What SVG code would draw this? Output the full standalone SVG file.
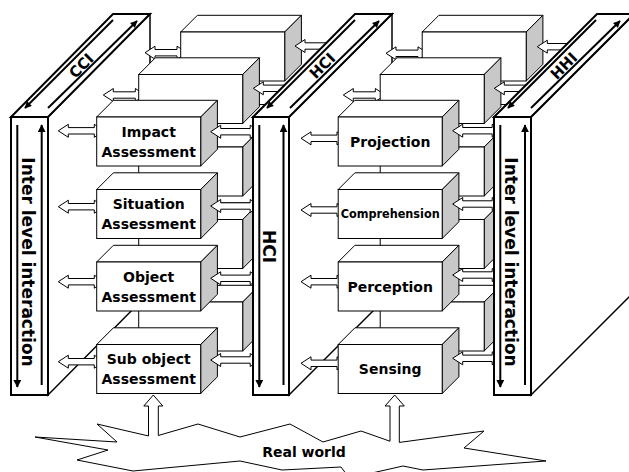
<svg xmlns="http://www.w3.org/2000/svg" width="629" height="472" viewBox="0 0 629 472">
<style>
.front,.top{fill:#fff;stroke:#000;stroke-width:1}
.side{fill:#c8c8c8;stroke:#000;stroke-width:1}
.arr{fill:#fff;stroke:#000;stroke-width:1}
.pface{fill:#fff;stroke:#000;stroke-width:2}
.pside{fill:#fff;stroke:#000;stroke-width:1.5}
.vline,.dline{stroke:#000;stroke-width:2;fill:none}
.burst{fill:#fff;stroke:#000;stroke-width:1}
text{font-family:"DejaVu Sans","Liberation Sans",sans-serif;font-weight:bold;fill:#000}
.lbl{font-size:14px;text-anchor:middle}
.vt{font-size:17px;text-anchor:middle}
.tt{font-size:15px;text-anchor:middle}
</style>
<defs>
<marker id="hv" markerUnits="userSpaceOnUse" markerWidth="8" markerHeight="8" viewBox="0 0 10 10" refX="9" refY="5" orient="auto"><path d="M0,0 L10,5 L0,10 Z"/></marker>
<marker id="hd" markerUnits="userSpaceOnUse" markerWidth="8" markerHeight="7" viewBox="0 0 10 10" refX="9" refY="5" orient="auto"><path d="M0,0 L10,5 L0,10 Z"/></marker>
<g id="box">
<polygon class="top" points="0,0 16.7,-16.7 120.7,-16.7 104,0"/>
<polygon class="side" points="104,0 120.7,-16.7 120.7,32.3 104,49"/>
<rect class="front" x="0" y="0" width="104" height="49"/>
</g>
<path id="arrA" class="arr" d="M0,0 L10,-6.5 L10,-3.2 L36,-3.2 L36,-6.5 L46,0 L36,6.5 L36,3.2 L10,3.2 L10,6.5 Z"/>
<path id="arrB" class="arr" d="M0,0 L10,-6.5 L10,-3.2 L39.5,-3.2 L39.5,-6.5 L49.5,0 L39.5,6.5 L39.5,3.2 L10,3.2 L10,6.5 Z"/>
<path id="arrC" class="arr" d="M0,0 L10,-6.5 L10,-3.2 L32,-3.2 L32,-6.5 L42,0 L32,6.5 L32,3.2 L10,3.2 L10,6.5 Z"/>
</defs>

<g id="real-world">
<polygon class="burst" points="35,437 117,442 97,424 153,437 198,424 240,437 290,424 323,442 361,431 395,443 484,431 464,448 546,461 423,470 403,466 372,473 350,479 341,467 282,470 240,461 133,471 77,460 108,450"/>
<text class="lbl" x="304" y="457">Real world</text>
</g>

<g id="panel-cci">
<polygon class="pside" points="48,117 150,14 150,292 48,395"/>
<polygon class="pface" points="11,117 48,117 150,14 113,14"/>
<rect class="pface" x="11" y="117" width="37" height="278"/>
<line class="vline" x1="17.3" y1="125" x2="17.3" y2="387" marker-end="url(#hv)"/>
<line class="vline" x1="41.7" y1="385" x2="41.7" y2="125" marker-end="url(#hv)"/>
<text class="vt" transform="translate(21.5,262) rotate(90)">Inter level interaction</text>
<line class="dline" x1="113" y1="20" x2="25" y2="108" marker-end="url(#hd)"/>
<line class="dline" x1="48" y1="108" x2="137" y2="21" marker-end="url(#hd)"/>
<text class="tt" transform="translate(81.5,66) rotate(-45)" y="5">CCI</text>
</g>

<g id="connectors-left-back-in"><use href="#arrC" x="145" y="52.7"/></g>
<g id="left-back">
<use href="#box" x="180.7" y="32"/>
<use href="#box" x="180.7" y="104.5"/>
<use href="#box" x="180.7" y="177"/>
<use href="#box" x="180.7" y="259.5"/>
</g>
<g id="connectors-left-back-out"><use href="#arrB" x="295" y="46"/><use href="#arrC" x="103.3" y="95"/></g>
<g id="left-mid">
<use href="#box" x="138.7" y="74.5"/>
<use href="#box" x="138.7" y="147"/>
<use href="#box" x="138.7" y="219.5"/>
<use href="#box" x="138.7" y="302"/>
</g>
<g id="connectors-left-front-in">
<use href="#arrB" x="253.3" y="88.3"/>
<use href="#arrA" x="58.3" y="130.8"/>
<use href="#arrA" x="58.3" y="206.7"/>
<use href="#arrA" x="58.3" y="281.7"/>
<use href="#arrA" x="58.3" y="361.7"/>
</g>
<g id="impact"><use href="#box" x="96.7" y="117"/><text class="lbl" x="148.7" y="136.5">Impact</text><text class="lbl" x="148.7" y="156.5">Assessment</text></g>
<g id="situation"><use href="#box" x="96.7" y="189.5"/><text class="lbl" x="148.7" y="209">Situation</text><text class="lbl" x="148.7" y="229">Assessment</text></g>
<g id="object"><use href="#box" x="96.7" y="262"/><text class="lbl" x="148.7" y="281.5">Object</text><text class="lbl" x="148.7" y="301.5">Assessment</text></g>
<g id="subobject"><use href="#box" x="96.7" y="344.5"/><text class="lbl" x="148.7" y="364">Sub object</text><text class="lbl" x="148.7" y="384">Assessment</text></g>
<g id="connectors-left-front-out">
<use href="#arrB" x="210.7" y="131.7"/>
<use href="#arrB" x="210.7" y="206"/>
<use href="#arrB" x="210.7" y="278.3"/>
<use href="#arrB" x="210.7" y="360"/>
</g>

<g id="panel-hci">
<polygon class="pside" points="289,117 392,14 392,292 289,395"/>
<polygon class="pface" points="253,117 289,117 392,14 355,14"/>
<rect class="pface" x="253" y="117" width="36" height="278"/>
<line class="vline" x1="259.3" y1="125" x2="259.3" y2="387" marker-end="url(#hv)"/>
<line class="vline" x1="283.5" y1="385" x2="283.5" y2="125" marker-end="url(#hv)"/>
<text class="vt" transform="translate(263.3,246.5) rotate(90)">HCI</text>
<line class="dline" x1="355" y1="20" x2="267" y2="108" marker-end="url(#hd)"/>
<line class="dline" x1="290" y1="108" x2="379" y2="21" marker-end="url(#hd)"/>
<text class="tt" transform="translate(322.5,66) rotate(-45)" y="5">HCI</text>
</g>

<g id="connectors-right-back-in"><use href="#arrC" x="386" y="53.3"/></g>
<g id="right-back">
<use href="#box" x="422.2" y="32"/>
<use href="#box" x="422.2" y="104.5"/>
<use href="#box" x="422.2" y="177"/>
<use href="#box" x="422.2" y="259.5"/>
</g>
<g id="connectors-right-back-out"><use href="#arrB" x="537.3" y="46.7"/><use href="#arrC" x="343.3" y="95"/></g>
<g id="right-mid">
<use href="#box" x="380.2" y="74.5"/>
<use href="#box" x="380.2" y="147"/>
<use href="#box" x="380.2" y="219.5"/>
<use href="#box" x="380.2" y="302"/>
</g>
<g id="connectors-right-front-in">
<use href="#arrB" x="494.3" y="88.3"/>
<use href="#arrA" x="301" y="138.3"/>
<use href="#arrA" x="301" y="210"/>
<use href="#arrA" x="301" y="281.7"/>
<use href="#arrA" x="301" y="363.3"/>
</g>
<g id="projection"><use href="#box" x="338.2" y="117"/><text class="lbl" x="390.2" y="146.5">Projection</text></g>
<g id="comprehension"><use href="#box" x="338.2" y="189.5"/><text class="lbl" x="390.2" y="218" style="font-size:12px" textLength="99" lengthAdjust="spacingAndGlyphs">Comprehension</text></g>
<g id="perception"><use href="#box" x="338.2" y="262"/><text class="lbl" x="390.2" y="291.5">Perception</text></g>
<g id="sensing"><use href="#box" x="338.2" y="344.5"/><text class="lbl" x="390.2" y="374">Sensing</text></g>
<g id="connectors-right-front-out">
<use href="#arrB" x="452.7" y="130.7"/>
<use href="#arrB" x="452.7" y="204"/>
<use href="#arrB" x="452.7" y="275"/>
<use href="#arrB" x="452.7" y="358.3"/>
</g>

<g id="panel-hhi">
<polygon class="pside" points="531,117 634,14 634,292 531,395"/>
<polygon class="pface" points="494,117 531,117 634,14 597,14"/>
<rect class="pface" x="494" y="117" width="37" height="278"/>
<line class="vline" x1="500.3" y1="125" x2="500.3" y2="387" marker-end="url(#hv)"/>
<line class="vline" x1="525" y1="385" x2="525" y2="125" marker-end="url(#hv)"/>
<text class="vt" transform="translate(504.7,262) rotate(90)">Inter level interaction</text>
<line class="dline" x1="596" y1="20" x2="508" y2="108" marker-end="url(#hd)"/>
<line class="dline" x1="531" y1="108" x2="620" y2="21" marker-end="url(#hd)"/>
<text class="tt" transform="translate(564,66) rotate(-45)" y="5">HHI</text>
</g>

<g id="connectors-real-world">
<path d="M153.3,395 L162.8,406 L158.3,406 L158.3,438.5 L148.5,438.5 L148.5,406 L143.8,406 Z" fill="#fff"/>
<path d="M148.5,436 L148.5,406 L143.8,406 L153.3,395 L162.8,406 L158.3,406 L158.3,435.5" fill="none" stroke="#000" stroke-width="1"/>
<path d="M394.7,395 L404.3,406 L399.3,406 L399.3,444 L390,444 L390,406 L385,406 Z" fill="#fff"/>
<path d="M390,441.2 L390,406 L385,406 L394.7,395 L404.3,406 L399.3,406 L399.3,442.4" fill="none" stroke="#000" stroke-width="1"/>
</g>
</svg>
